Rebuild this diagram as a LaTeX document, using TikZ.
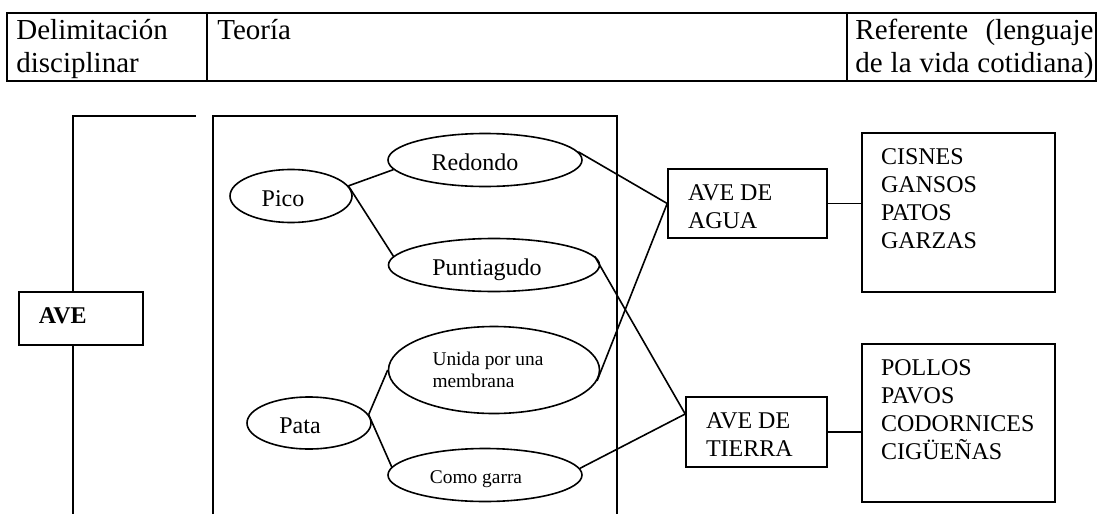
\documentclass[tikz,border=0pt]{standalone}
\usepackage{fontspec}
\setmainfont{Liberation Serif}
\usepackage{tikz}
\usetikzlibrary{shapes.geometric}
\tikzset{
  elip/.style={ellipse, draw, line width=0.8pt, inner sep=0pt, text height=10pt, text depth=0pt, font=\fontsize{12}{14}\selectfont},
  elipchica/.style={ellipse, draw, line width=0.8pt, inner sep=0pt, font=\fontsize{9.7}{11}\selectfont},
  caja/.style={rectangle, draw, fill=white, line width=0.8pt, inner xsep=10pt, inner ysep=5.7pt, font=\fontsize{12}{14}\selectfont},
  enlace/.style={line width=0.8pt},
  celda/.style={anchor=base west, inner sep=0pt, font=\fontsize{14.5}{16.3}\selectfont}
}
% texto de las cajas, arriba a la izquierda
\newcommand\lista[3]{\parbox[c][#2][t]{#1}{\raggedright\strut #3}}

\begin{document}
\begin{tikzpicture}[x=0.5pt, y=-0.5pt]

  \useasboundingbox (0,0) rectangle (1097,514);

  \newcommand\ARR{116};
  \newcommand\ABA{514};

  % encabezado
  \draw[line width=0.7pt] (7,13) rectangle (1096,81);
  \draw[line width=0.7pt] (207,13) -- (207,81);
  \draw[line width=0.7pt] (847,13) -- (847,81);
  \node[celda] (delim) at (16,39.5) {\parbox[t]{80pt}{Delimitación\\disciplinar}};
  \node[celda] (teoria) at (217,39.5) {Teoría};
  \node[celda] (refer) at (855,39.5) {\parbox[t]{119pt}{\makebox[119pt][s]{Referente (lenguaje}\\
      \makebox[119pt][s]{de la vida cotidiana)}}};

  % corchetes
  \draw[enlace] (196,\ARR) -- (73,\ARR) -- (73,\ABA);
  \draw[enlace] (213,\ABA) -- (213,\ARR) -- (617,\ARR) -- (617,\ABA);

  \node[caja] (ave) at (81,318.5) {\lista{42pt}{15.1pt}{\textbf{AVE}}};

  % teoria
  \node[elip, minimum width=61pt, minimum height=26.5pt] (pico) at (291,196) {Pico\kern8pt};
  \node[elip, minimum width=97pt, minimum height=26.5pt] (redondo) at (485,160) {Redondo\kern10pt};
  \node[elip, minimum width=105.5pt, minimum height=26.5pt] (punt) at (494,265) {Puntiagudo\kern7pt};
  \node[elipchica, align=left, minimum width=105.5pt, minimum height=43.5pt] (unida) at (494,370) {Unida por una\kern6pt\\membrana};
  \node[elip, minimum width=62pt, minimum height=26pt] (pata) at (309,423) {Pata\kern9pt};
  \node[elipchica, text height=8pt, text depth=0pt, minimum width=97pt, minimum height=26.5pt] (garra) at (485,475) {Como garra\kern9pt};

  % referentes
  \node[caja] (agua) at (747.5,203.5) {\lista{59.5pt}{23.1pt}{AVE DE\\AGUA}};
  \node[caja] (tierra) at (756.5,432) {\lista{50.5pt}{23.6pt}{AVE DE\\TIERRA}};
  \node[caja, inner xsep=9.5pt] (cisnes) at (958.5,212.5) {\lista{77.5pt}{68.1pt}{CISNES\\GANSOS\\PATOS\\GARZAS}};
  \node[caja, inner xsep=9.5pt] (pollos) at (958.5,423) {\lista{77.5pt}{67.6pt}{POLLOS\\PAVOS\\CODORNICES\\CIGÜEÑAS}};

  \draw[enlace] (pico.10) -- (redondo.186);
  \draw[enlace] (pico.10) -- (punt.175);
  \draw[enlace] (pata.8) -- (unida.west);
  \draw[enlace] (pata.8) -- (garra.175);

  \draw[enlace] (redondo.5) -- (agua.west);
  \draw[enlace] (unida.-6) -- (agua.west);
  \draw[enlace] (punt.5) -- ([yshift=9pt]tierra.west);
  \draw[enlace] (garra.4) -- ([yshift=9pt]tierra.west);

  \draw[enlace] (agua.east) -- (agua.east -| cisnes.west);
  \draw[enlace] (tierra.east) -- (tierra.east -| pollos.west);

\end{tikzpicture}
\end{document}
